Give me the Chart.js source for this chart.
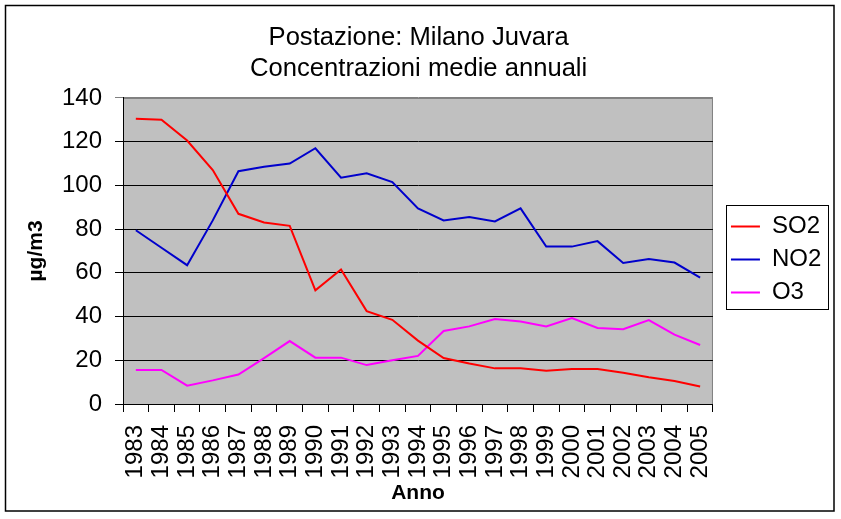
<!DOCTYPE html>
<html>
<head>
<meta charset="utf-8">
<script src="https://cdn.jsdelivr.net/npm/chart.js@4"></script>
<style>
  html, body { margin: 0; padding: 0; background: #fff; }
  #wrap { width: 841px; height: 519px; }
</style>
</head>
<body>
<div id="wrap"><canvas id="chart"></canvas></div>
<script>
// ── Data ──────────────────────────────────────────────────────────────────────
const years = ["1983", "1984", "1985", "1986", "1987", "1988", "1989", "1990",
  "1991", "1992", "1993", "1994", "1995", "1996", "1997", "1998", "1999",
  "2000", "2001", "2002", "2003", "2004", "2005"];

const so2 = [130.5, 130, 120.5, 107, 87, 83, 81.5, 52, 61.5, 42.5, 38.5, 29,
  21, 18.5, 16.3, 16.3, 15.2, 16, 16, 14.3, 12.2, 10.5, 8];
const no2 = [79.5, 71.5, 63.5, 84, 106.5, 108.5, 110, 117, 103.5, 105.5, 101.5,
  89.5, 84, 85.5, 83.5, 89.5, 72, 72, 74.5, 64.5, 66.3, 64.7, 57.8];
const o3 = [15.6, 15.6, 8.4, 10.8, 13.5, 21, 28.8, 21.2, 21.2, 17.8, 20, 22,
  33.4, 35.5, 38.9, 37.7, 35.5, 39.3, 34.8, 34.2, 38.4, 31.7, 27];

const yTicks = { min: 0, max: 140, step: 20 };

// ── Chart ─────────────────────────────────────────────────────────────────────
const FONT = "'Liberation Sans', Arial, sans-serif";

const frame = {
  id: "frame",
  beforeDraw(chart) {
    const { ctx, chartArea: a } = chart;
    ctx.save();
    ctx.fillStyle = "#c0c0c0";
    ctx.fillRect(a.left, a.top, a.right - a.left, a.bottom - a.top);
    ctx.strokeStyle = "#808080";
    ctx.lineWidth = 1;
    ctx.strokeRect(a.left + 0.5, a.top + 0.5, a.right - a.left - 1, a.bottom - a.top);
    ctx.restore();
  },
  afterDraw(chart) {
    const { ctx } = chart;
    ctx.save();
    ctx.strokeStyle = "#000";
    ctx.lineWidth = 1.5;
    ctx.strokeRect(5.5, 5.5, 828.5, 505.5);
    // box around the legend
    const hb = chart.legend.legendHitBoxes;
    if (hb && hb.length) {
      const l = Math.min(...hb.map(h => h.left)) - 5;
      const r = Math.max(...hb.map(h => h.left + h.width)) + 7;
      const t = Math.min(...hb.map(h => h.top)) - 10;
      const b = Math.max(...hb.map(h => h.top + h.height)) + 4;
      ctx.lineWidth = 1;
      ctx.strokeRect(Math.round(l) + 0.5, Math.round(t) + 0.5, Math.round(r - l), Math.round(b - t));
    }
    ctx.restore();
  },
};

const line = (label, data, color) => ({
  label, data,
  borderColor: color,
  backgroundColor: color,
  borderWidth: 2,
  pointRadius: 0,
  tension: 0,
  fill: false,
});

new Chart(document.getElementById("chart"), {
  type: "line",
  data: {
    labels: years,
    datasets: [
      line("SO2", so2, "#ff0000"),
      line("NO2", no2, "#0000cc"),
      line("O3", o3, "#ff00ff"),
    ],
  },
  options: {
    responsive: true,
    maintainAspectRatio: false,
    animation: false,
    events: [],
    layout: { padding: { left: 6, right: 9.7, top: 8, bottom: 8 } },
    plugins: {
      title: {
        display: true,
        text: ["Postazione: Milano Juvara", "Concentrazioni medie annuali"],
        color: "#000",
        font: { family: FONT, size: 25.6, weight: "normal", lineHeight: 1.22 },
        padding: { top: 14, bottom: 13.5 },
      },
      legend: {
        position: "right",
        labels: {
          color: "#000",
          font: { family: FONT, size: 24 },
          usePointStyle: true,
          pointStyle: "line",
          pointStyleWidth: 29,
          padding: 9,
        },
      },
      tooltip: { enabled: false },
    },
    scales: {
      x: {
        type: "category",
        offset: true,
        grid: { offset: true, drawOnChartArea: false, color: "#000", tickLength: 8 },
        border: { color: "#000", width: 1 },
        ticks: {
          color: "#000", autoSkip: false, minRotation: 90, maxRotation: 90,
          padding: 13, font: { family: FONT, size: 24 },
        },
        title: {
          display: true, text: "Anno", color: "#000",
          font: { family: FONT, size: 21, weight: "bold" },
          padding: { top: 0, bottom: 5.5 },
        },
        afterFit: s => { s.height = 107; },
      },
      y: {
        min: yTicks.min, max: yTicks.max,
        grid: {
          color: c => (c.tick && c.tick.value === yTicks.max ? "#808080" : "#000"),
          tickLength: 8,
        },
        border: { color: "#000", width: 1 },
        ticks: {
          stepSize: yTicks.step, color: "#000", padding: 13,
          font: { family: FONT, size: 24 },
        },
        title: {
          display: true, text: "µg/m3", color: "#000",
          font: { family: FONT, size: 21, weight: "bold" },
          padding: { top: 17.4, bottom: 0 },
        },
        afterFit: s => { s.width = 117; },
      },
      gap: {
        position: "right",
        display: true,
        grid: { display: false },
        border: { display: false },
        ticks: { display: false },
        afterFit: s => { s.width = 9; },
      },
    },
  },
  plugins: [frame],
});
</script>
</body>
</html>
